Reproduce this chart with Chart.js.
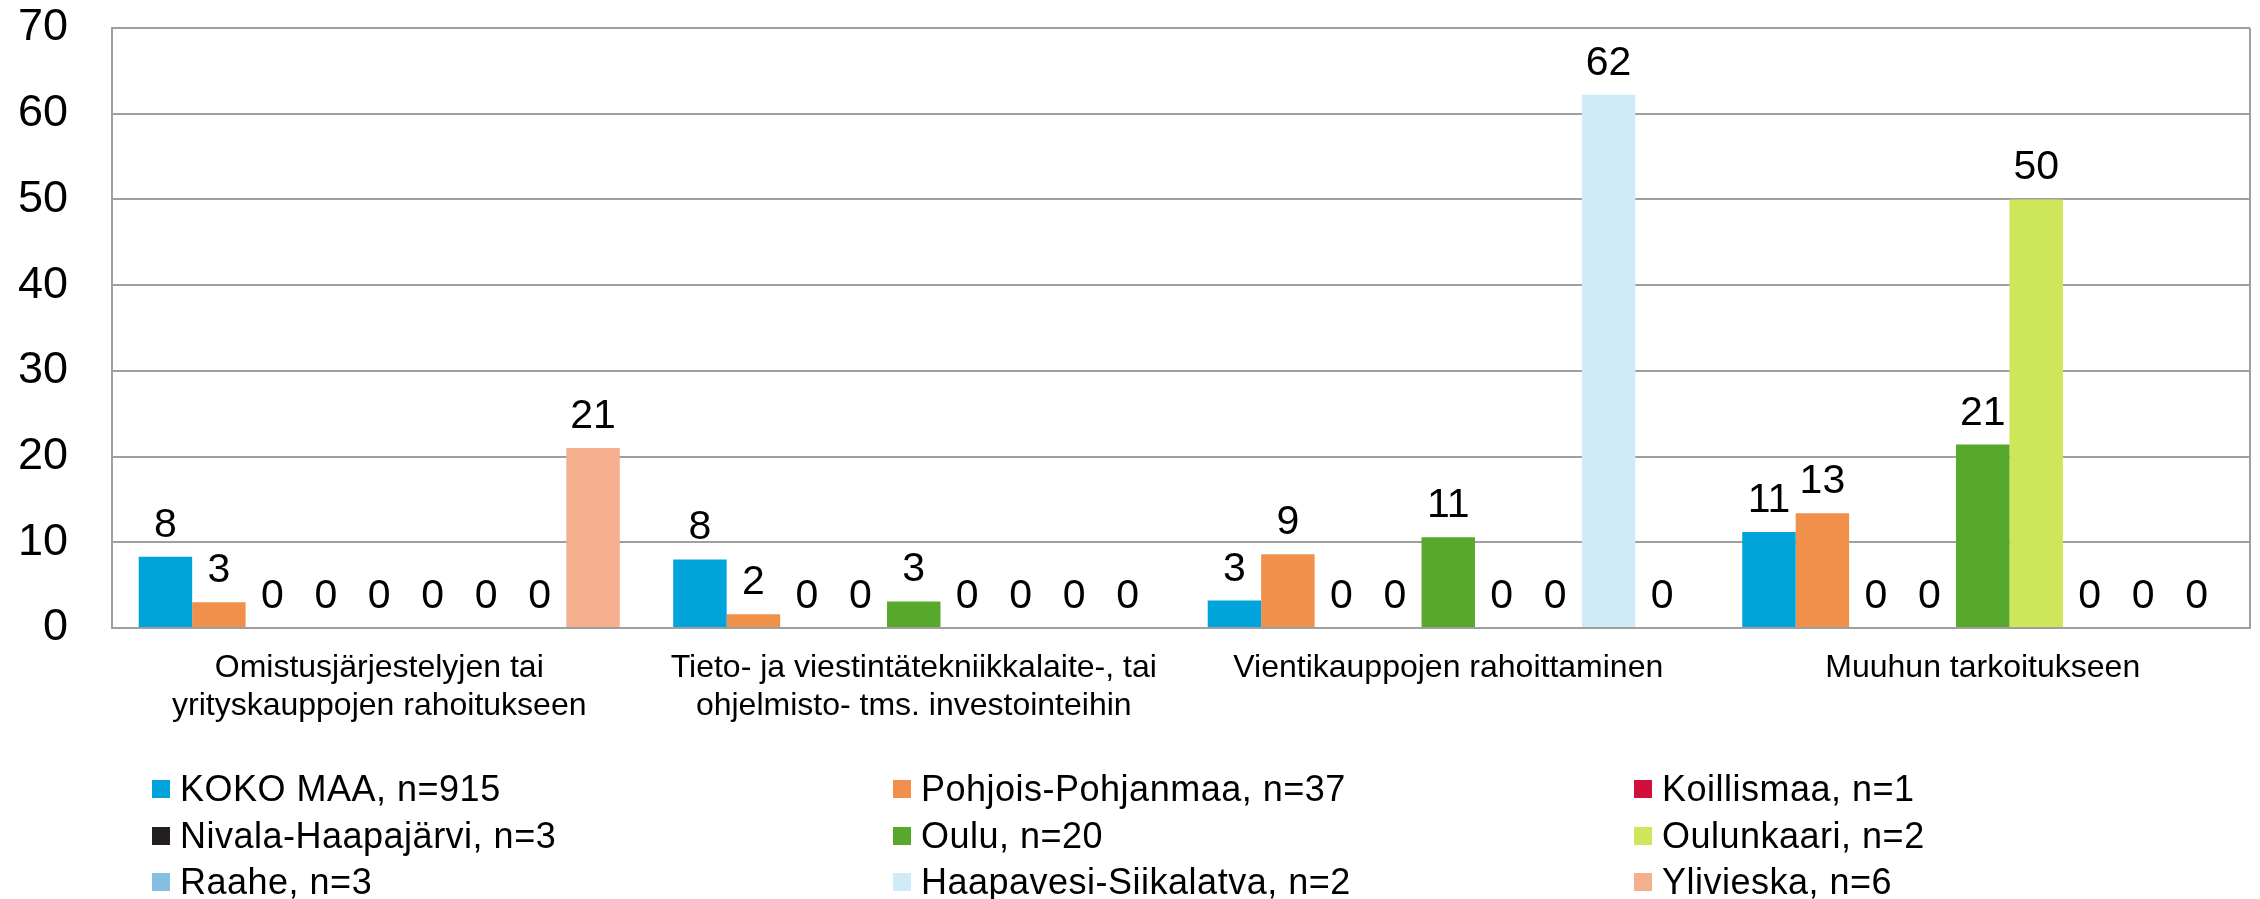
<!DOCTYPE html>
<html lang="fi">
<head>
  <meta charset="UTF-8" />
  <title>Rahoituksen käyttökohteet</title>
  <script src="https://cdn.jsdelivr.net/npm/chart.js"></script>
  <style>
    body {
      margin: 0;
      padding: 0;
      background: #fff;
      font-family: "Liberation Sans", Arial, sans-serif;
    }
    #wrap {
      position: relative;
      width: 2260px;
      height: 899px;
    }
    #legend {
      position: absolute;
      left: 152px;
      top: 766px;
      display: grid;
      grid-template-columns: 741px 741px 600px;
      grid-auto-rows: 46.5px;
      font-size: 36px;
      letter-spacing: 0.5px;
      color: #000;
    }
    #legend .item {
      display: flex;
      align-items: center;
      white-space: nowrap;
    }
    #legend .box {
      width: 18px;
      height: 18px;
      margin-right: 10px;
      flex: none;
    }
  </style>
</head>
<body>
  <div id="wrap">
    <canvas id="chart"></canvas>
    <div id="legend"></div>
  </div>

  <script>
    const categories = [
      ["Omistusjärjestelyjen tai", "yrityskauppojen rahoitukseen"],
      ["Tieto- ja viestintätekniikkalaite-, tai", "ohjelmisto- tms. investointeihin"],
      "Vientikauppojen rahoittaminen",
      "Muuhun tarkoitukseen"
    ];
    const yTicks = [0, 10, 20, 30, 40, 50, 60, 70];

    const seriesNames = [
      "KOKO MAA, n=915", "Pohjois-Pohjanmaa, n=37", "Koillismaa, n=1",
      "Nivala-Haapajärvi, n=3", "Oulu, n=20", "Oulunkaari, n=2",
      "Raahe, n=3", "Haapavesi-Siikalatva, n=2", "Ylivieska, n=6"
    ];
    const seriesColors = [
      "#00a3da", "#f0904a", "#d0103a",
      "#231f20", "#58a82b", "#cde65a",
      "#86bde3", "#cfebf7", "#f4b08c"
    ];

    // values in %, per series, in category order
    const kokoMaa    = [8.3, 8.0, 3.2, 11.2];
    const pohjoisPoh = [3.0, 1.6, 8.6, 13.4];
    const koillismaa = [0, 0, 0, 0];
    const nivala     = [0, 0, 0, 0];
    const oulu       = [0, 3.1, 10.6, 21.4];
    const oulunkaari = [0, 0, 0, 50];
    const raahe      = [0, 0, 0, 0];
    const haapavesi  = [0, 0, 62.2, 0];
    const ylivieska  = [21, 0, 0, 0];

    const seriesValues = [kokoMaa, pohjoisPoh, koillismaa, nivala, oulu, oulunkaari, raahe, haapavesi, ylivieska];

    const FONT = '"Liberation Sans", Arial, sans-serif';
    const GRID = "#9f9f9f";

    // numbers above the bars
    const valueLabels = {
      id: "valueLabels",
      afterDatasetsDraw(chart) {
        const ctx = chart.ctx;
        ctx.save();
        ctx.font = "41px " + FONT;
        ctx.fillStyle = "#000";
        ctx.textAlign = "center";
        ctx.textBaseline = "alphabetic";
        chart.data.datasets.forEach((ds, i) => {
          chart.getDatasetMeta(i).data.forEach((bar, j) => {
            ctx.fillText(Math.round(ds.data[j]), bar.x, bar.y - 20);
          });
        });
        ctx.restore();
      }
    };

    // right edge of the plot box
    const plotBox = {
      id: "plotBox",
      beforeDatasetsDraw(chart) {
        const a = chart.chartArea;
        const ctx = chart.ctx;
        ctx.save();
        ctx.strokeStyle = GRID;
        ctx.lineWidth = 2;
        ctx.beginPath();
        ctx.moveTo(a.right, a.top);
        ctx.lineTo(a.right, a.bottom);
        ctx.stroke();
        ctx.restore();
      }
    };

    const chart = new Chart(document.getElementById("chart"), {
      type: "bar",
      data: {
        labels: categories,
        datasets: seriesNames.map((name, i) => ({
          label: name,
          data: seriesValues[i],
          backgroundColor: seriesColors[i],
          borderWidth: 0,
          categoryPercentage: 0.9,
          barPercentage: 1.0
        }))
      },
      options: {
        responsive: true,
        maintainAspectRatio: false,
        animation: false,
        devicePixelRatio: 1,
        layout: {
          padding: { left: 0, top: 0, right: 10, bottom: 0 }
        },
        plugins: {
          legend: { display: false },
          tooltip: { enabled: false }
        },
        scales: {
          x: {
            grid: { display: false, drawTicks: false },
            border: { display: true, color: GRID, width: 2 },
            ticks: {
              color: "#000",
              padding: 21,
              maxRotation: 0,
              autoSkip: false,
              font: { family: FONT, size: 32, lineHeight: 1.19 }
            },
            afterFit(scale) {
              scale.height = 271;
              scale.paddingLeft = 0;
              scale.paddingRight = 0;
            }
          },
          y: {
            min: 0,
            max: 70,
            afterBuildTicks(scale) {
              scale.ticks = yTicks.map(v => ({ value: v }));
            },
            grid: { color: GRID, lineWidth: 2, drawTicks: false },
            border: { display: true, color: GRID, width: 2 },
            ticks: {
              color: "#000",
              padding: 44,
              font: { family: FONT, size: 45 }
            },
            afterFit(scale) {
              scale.width = 112;
              scale.paddingTop = 28;
              scale.paddingBottom = 0;
            }
          }
        }
      },
      plugins: [valueLabels, plotBox]
    });

    // legend laid out in three columns like the original
    const legendEl = document.getElementById("legend");
    chart.data.datasets.forEach(ds => {
      const item = document.createElement("div");
      item.className = "item";
      const box = document.createElement("span");
      box.className = "box";
      box.style.background = ds.backgroundColor;
      const txt = document.createElement("span");
      txt.textContent = ds.label;
      item.appendChild(box);
      item.appendChild(txt);
      legendEl.appendChild(item);
    });
  </script>
</body>
</html>
